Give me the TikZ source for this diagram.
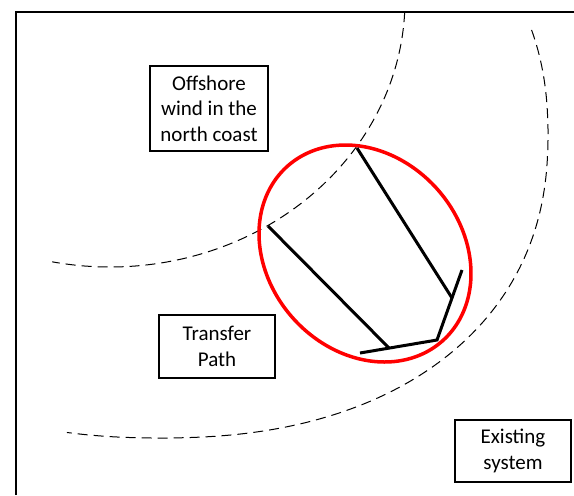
\documentclass[tikz,border=0pt]{standalone}
\usepackage{fontspec}
\setmainfont{Carlito}
\begin{document}
\begin{tikzpicture}[x=0.5pt,y=-0.5pt,
  lbl/.style={draw=black,line width=0.65pt,inner sep=0pt,align=center,
    font=\fontsize{10.5}{12.8}\selectfont},
  dashline/.style={dash pattern=on 5pt off 3pt,line width=0.5pt},
  routeline/.style={line width=1.5pt,black},
  frameline/.style={line width=0.65pt,black}]
\useasboundingbox (0,0) rectangle (574,495);
% frame
\coordinate (fbl) at (16,495);
\coordinate (ftl) at (16,12);
\coordinate (ftr) at (574,12);
\draw[frameline] (fbl) -- (ftl) -- (ftr);
% inner dashed arc
\draw[dashline] plot[domain=2.6:101.3,samples=80] ({110+295*cos(\x)},{267*sin(\x)});
% outer dashed arc (superellipse)
\draw[dashline] plot[domain=-17.7:101.6,samples=120]
  ({160+388*cos(\x)*exp(-0.111*ln(abs(cos(\x))+0.001))},
   {135+303*sin(\x)*exp(-0.111*ln(abs(sin(\x))+0.001))});
% red ellipse
\draw[red,line width=1.75pt] plot[domain=0:360,samples=120,smooth]
  ({365+116.8*cos(\x)*cos(48.6)-96.8*sin(\x)*sin(48.6)},
   {253.5+116.8*cos(\x)*sin(48.6)+96.8*sin(\x)*cos(48.6)}) -- cycle;
% transfer path lines
\coordinate (a1) at (357,148);
\coordinate (a2) at (452,298);
\coordinate (b1) at (268,226);
\coordinate (b2) at (389,348);
\coordinate (c1) at (462,270);
\coordinate (c2) at (437,340);
\coordinate (d1) at (360,353);
\draw[routeline] (a1) -- (a2);
\draw[routeline] (b1) -- (b2);
\draw[routeline,line join=miter] (c1) -- (c2) -- (d1);
% labels
\node[lbl,minimum width=59pt,minimum height=42.5pt] (offshore) at (209,108.5) {Offshore\\wind in the\\north coast};
\node[lbl,minimum width=58pt,minimum height=31.5pt] (transfer) at (217,346.5) {Transfer\\Path};
\node[lbl,minimum width=58pt,minimum height=31pt] (existing) at (513,451) {Existing\\system};
\end{tikzpicture}
\end{document}
